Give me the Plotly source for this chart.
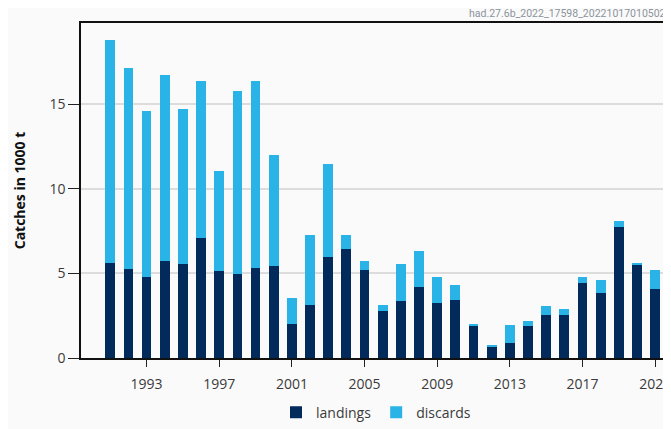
import plotly.graph_objects as go

years = list(range(1991, 2022))
totals = [18.83, 17.18, 14.61, 16.73, 14.74, 16.40, 11.05, 15.81, 16.40, 12.02,
          3.56, 7.26, 11.48, 7.29, 5.76, 3.13, 5.57, 6.34, 4.77, 4.30,
          2.02, 0.72, 1.95, 2.20, 3.07, 2.90, 4.79, 4.63, 8.09, 5.62, 5.23]
landings = [5.62, 5.29, 4.79, 5.76, 5.57, 7.08, 5.17, 4.98, 5.35, 5.43,
            2.02, 3.13, 5.95, 6.42, 5.23, 2.78, 3.37, 4.20, 3.23, 3.41,
            1.87, 0.70, 0.90, 1.87, 2.53, 2.53, 4.43, 3.85, 7.78, 5.51, 4.11]
discards = [round(t - l, 2) for t, l in zip(totals, landings)]

x_tick_vals = [1993, 1997, 2001, 2005, 2009, 2013, 2017, 2021]
x_tick_text = ["1993", "1997", "2001", "2005", "2009", "2013", "2017", "2021"]
y_tick_vals = [0, 5, 10, 15]

watermark = "had.27.6b_2022_17598_20221017010502"
y_title = "Catches in 1000 t"

NAVY = "#022b5b"
SKY = "#29b3e7"
BG = "#fafafa"
TXT = "#3a3a3a"

fig = go.Figure()
fig.add_trace(go.Bar(x=years, y=landings, name="landings", marker_color=NAVY,
                     marker_line_width=0))
fig.add_trace(go.Bar(x=years, y=discards, name="discards", marker_color=SKY,
                     marker_line_width=0))

fig.update_layout(
    width=663, height=421,
    barmode="stack", bargap=0.46,
    paper_bgcolor=BG, plot_bgcolor=BG,
    margin=dict(l=73, r=0, t=15, b=66),
    font=dict(family="Open Sans", size=13, color=TXT),
    showlegend=True,
    legend=dict(orientation="h", x=0.5, xanchor="center", y=-0.163, yanchor="middle",
                font=dict(size=14, color=TXT), bgcolor="rgba(0,0,0,0)",
                traceorder="normal"),
    xaxis=dict(range=[1989.39, 2021.87], tickvals=x_tick_vals, ticktext=x_tick_text,
               showgrid=False, showline=True, linecolor="#111", linewidth=1.5,
               mirror=True, ticks="outside", ticklen=7, tickcolor="#222",
               tickwidth=1, tickfont=dict(size=14, color=TXT), zeroline=False,
               ticklabelstandoff=5, ticklabeloverflow="allow"),
    yaxis=dict(range=[0, 19.82], tickvals=y_tick_vals, showgrid=True,
               gridcolor="#dcdcdc", gridwidth=1.5, showline=True, linecolor="#111",
               linewidth=1.5, ticks="outside", ticklen=11, tickcolor="#222",
               tickwidth=1, tickfont=dict(size=14, color=TXT), zeroline=False,
               title=dict(text=y_title, standoff=21,
                          font=dict(size=14, color="#111", family="Open Sans", weight="bold"))),
    annotations=[dict(text=watermark, xref="paper", yref="paper", x=1.0, y=1.0,
                      xanchor="right", yanchor="bottom", yshift=1, xshift=-3,
                      showarrow=False,
                      font=dict(size=10.5, color="#8c939c", family="Roboto"))],
)

fig.write_html("out.html", config={"displayModeBar": False})
